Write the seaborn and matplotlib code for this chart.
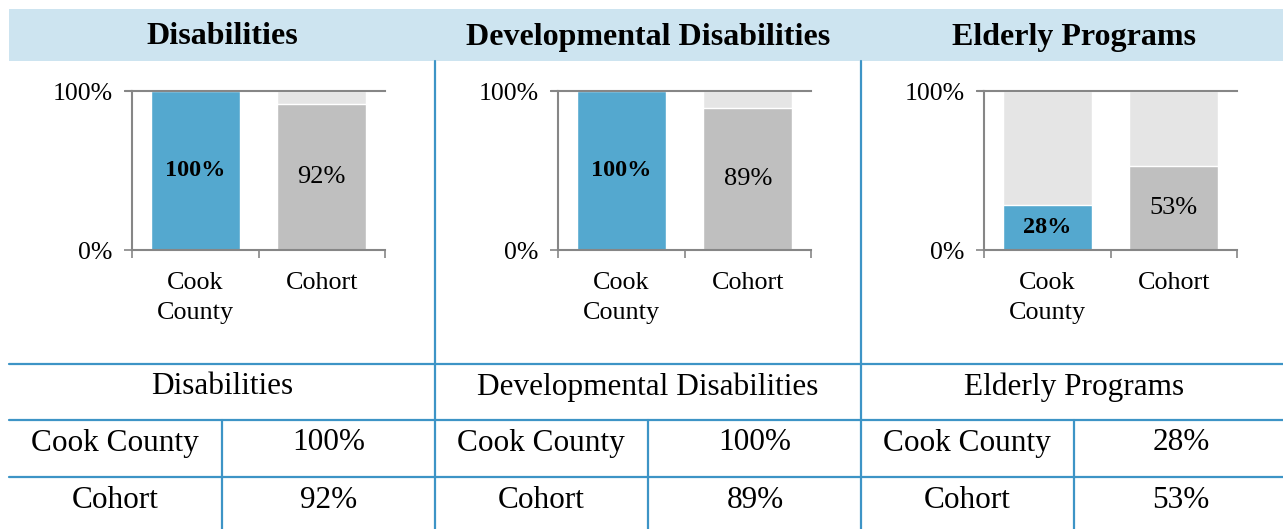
import matplotlib
matplotlib.use("Agg")
import matplotlib.pyplot as plt
from matplotlib.patches import Rectangle
from matplotlib.lines import Line2D
import seaborn as sns
import pandas as pd

programs = ["Disabilities", "Developmental Disabilities", "Elderly Programs"]
groups = ["Cook County", "Cohort"]
group_ticks = ["Cook\nCounty", "Cohort"]
cook_values = [100, 100, 28]
cohort_values = [92, 89, 53]
full_scale = [100, 100]

BLUE = "#54A8CF"
GRAY = "#BFBFBF"
LIGHT = "#E5E5E5"
LINE = "#3D94C6"
HEADER = "#CDE4F0"
AXIS = "#868686"

sns.set_theme(style="white")
plt.rcParams["font.family"] = ["Liberation Serif", "DejaVu Serif"]
plt.rcParams["text.color"] = "black"
plt.rcParams["xtick.color"] = "black"
plt.rcParams["ytick.color"] = "black"

W, H = 1283, 529
fig = plt.figure(figsize=(W / 100, H / 100), dpi=100)


def fx(x):
    return x / W


def fy(y):
    return 1 - y / H


# header band
fig.patches.append(Rectangle((fx(9), fy(61)), fx(1283 - 9), (61 - 9) / H,
                             transform=fig.transFigure, facecolor=HEADER,
                             edgecolor="none", zorder=0))

panel_left = [132, 558, 984]
panel_center = [222, 648, 1074]
for i, prog in enumerate(programs):
    fig.text(fx(panel_center[i]), fy(37), prog, ha="center", va="center",
             fontsize=23, fontweight="bold", color="black")

    ax = fig.add_axes([fx(panel_left[i]), fy(250), fx(253), 159 / H])
    df_bg = pd.DataFrame({"group": groups, "value": full_scale})
    sns.barplot(data=df_bg, x="group", y="value", color=LIGHT, ax=ax,
                width=0.7, saturation=1, errorbar=None)
    df = pd.DataFrame({"group": groups, "value": [cook_values[i], cohort_values[i]]})
    sns.barplot(data=df, x="group", y="value", hue="group",
                palette=[BLUE, GRAY], ax=ax, width=0.7, saturation=1,
                errorbar=None, legend=False)
    conts = ax.containers[1:]
    ax.bar_label(conts[0], labels=[f"{cook_values[i]}%"], label_type="center",
                 fontsize=17.5, fontweight="bold", color="black")
    ax.bar_label(conts[1], labels=[f"{cohort_values[i]}%"], label_type="center",
                 fontsize=19, color="black")

    ax.set_xlim(-0.5, 1.5)
    ax.set_ylim(0, 100)
    ax.set_yticks([0, 100])
    ax.set_yticklabels(["0%", "100%"], fontsize=18.5)
    ax.set_xticks([0, 1])
    ax.set_xticklabels(group_ticks, fontsize=18.8, linespacing=1.45)
    ax.set_xticks([-0.5, 0.5, 1.5], minor=True)
    ax.tick_params(axis="x", which="major", length=0, pad=16)
    ax.tick_params(axis="x", which="minor", length=6, width=1.2, color=AXIS,
                   direction="out", bottom=True)
    ax.tick_params(axis="y", length=6, width=1.2, color=AXIS, direction="out",
                   left=True, pad=8)
    ax.set_xlabel("")
    ax.set_ylabel("")
    ax.spines["right"].set_visible(False)
    for s in ["top", "left", "bottom"]:
        ax.spines[s].set_color(AXIS)
        ax.spines[s].set_linewidth(1.5)
    ax.set_facecolor("none")
    ax.add_line(Line2D([-0.555, -0.5], [100, 100], color=AXIS, lw=1.5,
                       clip_on=False))

    # table texts
    fig.text(fx(panel_center[i]), fy(387), prog, ha="center", va="center",
             fontsize=22.5, color="black")
    fig.text(fx(panel_center[i] - 107), fy(443), groups[0], ha="center",
             va="center", fontsize=22.5, color="black")
    fig.text(fx(panel_center[i] + 107), fy(443), f"{cook_values[i]}%",
             ha="center", va="center", fontsize=22.5, color="black")
    fig.text(fx(panel_center[i] - 107), fy(500), groups[1], ha="center",
             va="center", fontsize=22.5, color="black")
    fig.text(fx(panel_center[i] + 107), fy(500), f"{cohort_values[i]}%",
             ha="center", va="center", fontsize=22.5, color="black")

# table lines
for y in [364, 420, 477]:
    fig.add_artist(Line2D([fx(9), fx(1283)], [fy(y), fy(y)], color=LINE,
                          lw=1.6, transform=fig.transFigure))
for x in [435, 861]:
    fig.add_artist(Line2D([fx(x), fx(x)], [fy(61), fy(529)], color=LINE,
                          lw=1.6, transform=fig.transFigure))
for x in [222, 648, 1074]:
    fig.add_artist(Line2D([fx(x), fx(x)], [fy(420), fy(529)], color=LINE,
                          lw=1.6, transform=fig.transFigure))

fig.savefig("out.png", dpi=100, facecolor="white")
